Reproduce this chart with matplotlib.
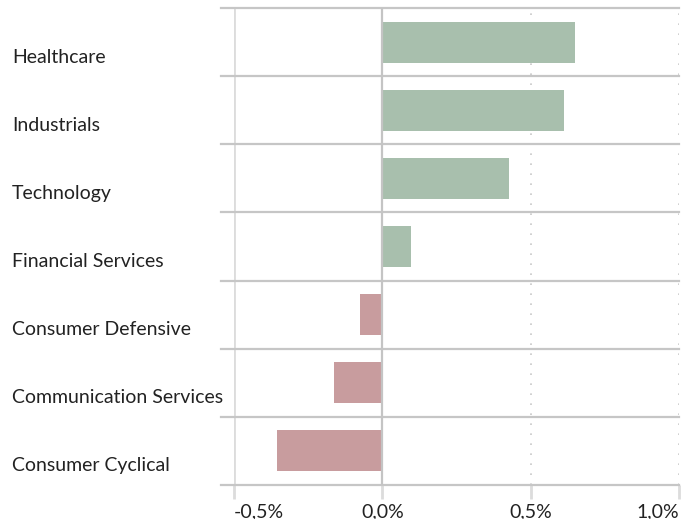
import numpy as np
import matplotlib.pyplot as plt
import matplotlib.transforms as mtransforms

plt.rcParams['font.family'] = ['Lato', 'DejaVu Sans']

sectors = ['Healthcare', 'Industrials', 'Technology', 'Financial Services',
           'Consumer Defensive', 'Communication Services', 'Consumer Cyclical']
returns = [0.649, 0.611, 0.426, 0.095, -0.074, -0.162, -0.355]
xticks = [-0.5, 0.0, 0.5, 1.0]
xlabels = ['-0,5%', '0,0%', '0,5%', '1,0%']

green = '#a8bfad'
red = '#c89c9e'
grid = '#c6c6c6'

fig = plt.figure(figsize=(6.81, 5.19), dpi=100)
ax = fig.add_axes([234 / 681, 34 / 519, 445 / 681, 477 / 519])

y = np.arange(len(sectors))[::-1]
colors = [green if v >= 0 else red for v in returns]
ax.barh(y, returns, height=0.6, color=colors, zorder=3)

ax.set_xlim(-0.5, 1.0)
ax.set_ylim(-0.5, len(sectors) - 0.5)

# row separators, extended a little to the left
for b in np.arange(-0.5, len(sectors), 1.0):
    ax.plot([-0.03, 1.0], [b, b], transform=ax.get_yaxis_transform(),
            color=grid, lw=1.6, clip_on=False, zorder=2)

# vertical lines
ax.axvline(-0.5, color='#dcdcdc', lw=2, zorder=1)
ax.axvline(0.0, color='#c4c4c4', lw=1.6, zorder=4)
for xv in [0.5, 1.0]:
    ax.axvline(xv, color='#c8c8c8', lw=1.2, ls=(0, (1, 5)), zorder=1)

for s in ax.spines.values():
    s.set_visible(False)

ax.set_xticks(xticks)
ax.set_xticklabels(xlabels, fontsize=14, color='#222222')
ax.tick_params(axis='x', length=10, width=2, color='#dcdcdc', pad=3)
tl = ax.get_xticklabels()
tl[0].set_ha('left')
tl[-1].set_ha('right')

ax.set_yticks([])
trans = mtransforms.blended_transform_factory(fig.transFigure, ax.transData)
for yi, name in zip(y, sectors):
    ax.text(12 / 681, yi - 0.22, name, transform=trans,
            fontsize=14, color='#222222', va='center', ha='left')

plt.savefig('out.png', dpi=100)
